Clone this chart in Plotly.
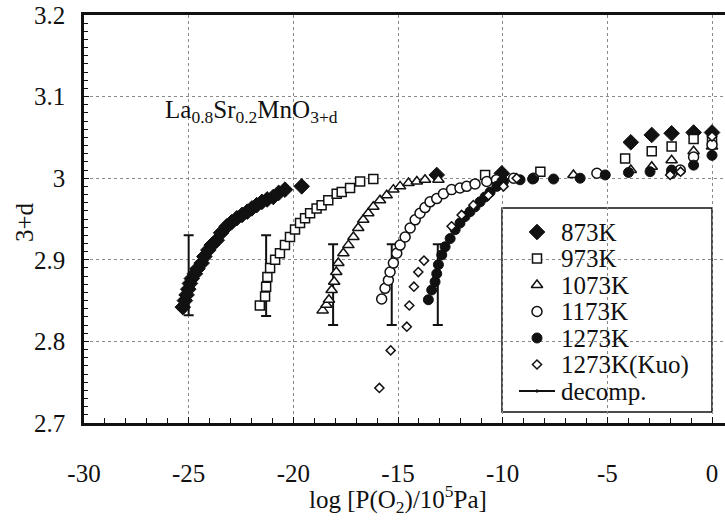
import plotly.graph_objects as go

# ---- data: oxygen nonstoichiometry of La0.8Sr0.2MnO3+d vs log pO2 ----
x_873 = [-25.28, -25.18, -25.10, -25.02, -24.94, -24.85, -24.70, -24.58, -24.38, -24.25,
         -24.06, -23.90, -23.66, -23.45, -23.18, -22.95, -22.70, -22.45, -22.20, -21.98,
         -21.75, -21.50, -21.25, -20.96, -20.70, -20.40, -19.60, -13.15, -10.04, -3.88,
         -2.88, -1.93, -0.88, 0.0]
y_873 = [2.842, 2.850, 2.857, 2.864, 2.871, 2.877, 2.883, 2.889, 2.896, 2.904,
         2.912, 2.918, 2.924, 2.933, 2.941, 2.946, 2.951, 2.955, 2.959, 2.963,
         2.967, 2.971, 2.974, 2.977, 2.982, 2.986, 2.990, 3.004, 3.006, 3.044,
         3.053, 3.055, 3.056, 3.056]

x_973 = [-21.60, -21.35, -21.30, -21.24, -21.11, -20.87, -20.64, -20.40, -20.16, -19.92,
         -19.68, -19.44, -19.20, -18.89, -18.65, -18.33, -17.93, -17.69, -17.29, -16.81,
         -16.18, -10.84, -8.20, -4.15, -2.88, -1.93, -0.88, 0.0]
y_973 = [2.844, 2.855, 2.867, 2.879, 2.890, 2.900, 2.908, 2.918, 2.928, 2.937,
         2.945, 2.951, 2.957, 2.963, 2.967, 2.973, 2.981, 2.983, 2.988, 2.996,
         2.999, 3.004, 3.008, 3.024, 3.033, 3.039, 3.048, 3.047]

x_1073 = [-18.60, -18.42, -18.30, -18.17, -18.05, -17.95, -17.85, -17.61, -17.37, -17.13,
          -16.90, -16.66, -16.42, -16.18, -15.86, -15.54, -15.22, -14.90, -14.50, -14.10,
          -13.71, -13.07, -6.62, -3.88, -2.88, -1.93, -0.88, 0.0]
y_1073 = [2.838, 2.845, 2.851, 2.863, 2.873, 2.885, 2.896, 2.908, 2.918, 2.928,
          2.939, 2.949, 2.957, 2.965, 2.973, 2.979, 2.986, 2.990, 2.994, 2.996,
          2.998, 2.998, 3.004, 3.010, 3.014, 3.022, 3.033, 3.039]

x_1173 = [-15.78, -15.62, -15.46, -15.38, -15.22, -15.06, -14.90, -14.66, -14.42, -14.18,
          -13.95, -13.71, -13.47, -13.15, -12.83, -12.44, -12.04, -11.72, -11.32, -10.76,
          -10.30, -9.48, -8.53, -5.50, -1.93, -1.52, -0.88, 0.0]
y_1173 = [2.852, 2.865, 2.875, 2.885, 2.896, 2.908, 2.918, 2.928, 2.939, 2.949,
          2.957, 2.964, 2.971, 2.975, 2.981, 2.986, 2.988, 2.990, 2.993, 2.996,
          2.998, 3.000, 3.000, 3.006, 3.006, 3.010, 3.026, 3.041]

x_1273 = [-13.55, -13.39, -13.23, -13.15, -13.07, -12.91, -12.75, -12.51, -12.27, -12.04,
          -11.80, -11.56, -11.32, -11.08, -10.84, -10.60, -10.28, -10.04, -9.96, -9.17,
          -8.57, -7.57, -6.30, -5.10, -3.99, -2.96, -1.93, -0.88, 0.0]
y_1273 = [2.851, 2.863, 2.873, 2.883, 2.894, 2.906, 2.916, 2.926, 2.937, 2.945,
          2.953, 2.959, 2.965, 2.971, 2.977, 2.983, 2.990, 2.996, 2.996, 2.998,
          2.999, 2.999, 3.000, 3.004, 3.007, 3.008, 3.010, 3.016, 3.028]

x_kuo = [-15.89, -15.35, -14.58, -14.46, -14.24, -14.03, -13.76, -12.44, -11.96, -11.40,
         -10.68, -9.96, -9.33, -2.00, -1.50, 0.0]
y_kuo = [2.743, 2.789, 2.818, 2.844, 2.867, 2.885, 2.899, 2.941, 2.955, 2.967,
         2.979, 2.990, 3.000, 3.004, 3.008, 3.051]

# decomposition ranges (low / high limits of 3+d)
x_dec = [-25.0, -21.3, -18.1, -15.3, -13.1]
lo_dec = [2.832, 2.831, 2.820, 2.820, 2.820]
hi_dec = [2.930, 2.930, 2.919, 2.919, 2.919]

x_ticks = [-30, -25, -20, -15, -10, -5, 0]
x_ticklabels = ["-30", "-25", "-20", "-15", "-10", "-5", "0"]
y_ticks = [2.7, 2.8, 2.9, 3.0, 3.1, 3.2]
y_ticklabels = ["2.7", "2.8", "2.9", "3", "3.1", "3.2"]

legend_labels = ["873K", "973K", "1073K", "1173K", "1273K", "1273K(Kuo)", "decomp."]

# ---- styling ----
INK = "#111111"
FONT = "Liberation Serif"
styles = [
    dict(symbol="diamond", size=12, color=INK, line=dict(color=INK, width=1)),
    dict(symbol="square", size=9, color="white", line=dict(color=INK, width=1.5)),
    dict(symbol="triangle-up", size=10, color="white", line=dict(color=INK, width=1.5)),
    dict(symbol="circle", size=10, color="white", line=dict(color=INK, width=1.5)),
    dict(symbol="circle", size=10, color=INK, line=dict(color=INK, width=1)),
    dict(symbol="diamond", size=7, color="white", line=dict(color=INK, width=1.5)),
]
series = [(x_873, y_873), (x_973, y_973), (x_1073, y_1073),
          (x_1173, y_1173), (x_1273, y_1273), (x_kuo, y_kuo)]

fig = go.Figure()

mid_dec = [(a + b) / 2 for a, b in zip(lo_dec, hi_dec)]
half_dec = [(b - a) / 2 for a, b in zip(lo_dec, hi_dec)]
fig.add_trace(go.Scatter(
    x=x_dec, y=mid_dec, mode="markers", name=legend_labels[6],
    marker=dict(size=1, color="rgba(0,0,0,0)"),
    error_y=dict(type="data", array=half_dec, visible=True, color=INK,
                 thickness=2, width=5),
    showlegend=False,
))

for (xs, ys), st, name in zip(series, styles, legend_labels):
    fig.add_trace(go.Scatter(x=xs, y=ys, mode="markers", name=name,
                             marker=st, showlegend=False))

# ---- hand-set legend in plot-area fractions (overlay axes span 0..1) ----
L, R, T, B = 84, 725, 15, 423
def fx(px):
    return (px - L) / (R - L)
def fy(py):
    return (B - py) / (B - T)

row_px = [232, 258.5, 285, 311.5, 338, 364.5, 391]
key_x = fx(537)
text_x = fx(560)

for st, name, rp in zip(styles, legend_labels[:6], row_px[:6]):
    fig.add_trace(go.Scatter(x=[key_x], y=[fy(rp)], mode="markers", marker=st,
                             xaxis="x2", yaxis="y2", showlegend=False,
                             hoverinfo="skip"))

shapes = [
    dict(type="rect", xref="paper", yref="paper", x0=fx(502), x1=fx(712),
         y0=fy(412), y1=fy(208), line=dict(color=INK, width=1.5),
         fillcolor="white", layer="between"),
    dict(type="line", xref="paper", yref="paper", x0=fx(519), x1=fx(555),
         y0=fy(row_px[6]), y1=fy(row_px[6]), line=dict(color=INK, width=2)),
    dict(type="line", xref="paper", yref="paper", x0=fx(537), x1=fx(537),
         y0=fy(row_px[6] + 1.5), y1=fy(row_px[6] - 1.5),
         line=dict(color=INK, width=2)),
]

annotations = []
for name, rp in zip(legend_labels, row_px):
    annotations.append(dict(x=text_x, y=fy(rp), xref="paper", yref="paper",
                            text=name, showarrow=False, xanchor="left",
                            yanchor="middle", borderpad=0,
                            font=dict(family=FONT, size=25, color=INK)))

annotations.append(dict(
    x=fx(163), y=fy(111), xref="paper", yref="paper",
    text="La<sub>0.8</sub>Sr<sub>0.2</sub>MnO<sub>3+d</sub>",
    showarrow=False, xanchor="left", yanchor="middle",
    font=dict(family=FONT, size=25, color=INK)))

# axis titles
annotations.append(dict(
    x=fx(398), y=fy(518), xref="paper", yref="paper",
    text="log [P(O<sub>2</sub>)/10<sup>5</sup>Pa]", showarrow=False,
    xanchor="center", yanchor="bottom", borderpad=0,
    font=dict(family=FONT, size=25, color=INK)))
annotations.append(dict(
    x=fx(24), y=fy(222), xref="paper", yref="paper",
    text="3+d", showarrow=False, textangle=-90,
    xanchor="center", yanchor="middle",
    font=dict(family=FONT, size=25, color=INK)))

axis_common = dict(
    showline=True, linecolor=INK, linewidth=2.5,
    ticks="inside", tickcolor=INK, tickwidth=1.2,
    showgrid=True, gridcolor="#8a8a8a", gridwidth=1.2, griddash="dot",
    zeroline=False,
    tickfont=dict(family=FONT, size=25, color=INK),
)

fig.update_layout(
    width=725, height=520,
    margin=dict(l=L, r=725 - R, t=T, b=520 - B),
    paper_bgcolor="white", plot_bgcolor="white",
    showlegend=False,
    xaxis=dict(
        axis_common, range=[-30, 0.62], tickmode="array", tickvals=x_ticks,
        ticktext=x_ticklabels,
        ticklen=6, mirror=True, ticklabelstandoff=26,
        minor=dict(dtick=1, ticks="inside", ticklen=5, tickcolor=INK,
                   tickwidth=1.2, showgrid=False),
    ),
    yaxis=dict(
        axis_common, range=[2.7, 3.2], tickmode="array", tickvals=y_ticks,
        ticktext=y_ticklabels, ticklen=5, ticklabelstandoff=11,
        minor=dict(dtick=0.01, ticks="inside", ticklen=4, tickcolor=INK,
                   tickwidth=1, showgrid=False),
    ),
    xaxis2=dict(overlaying="x", range=[0, 1], visible=False),
    yaxis2=dict(overlaying="y", range=[0, 1], visible=False),
    shapes=shapes,
    annotations=annotations,
)

fig.write_html("out.html")
